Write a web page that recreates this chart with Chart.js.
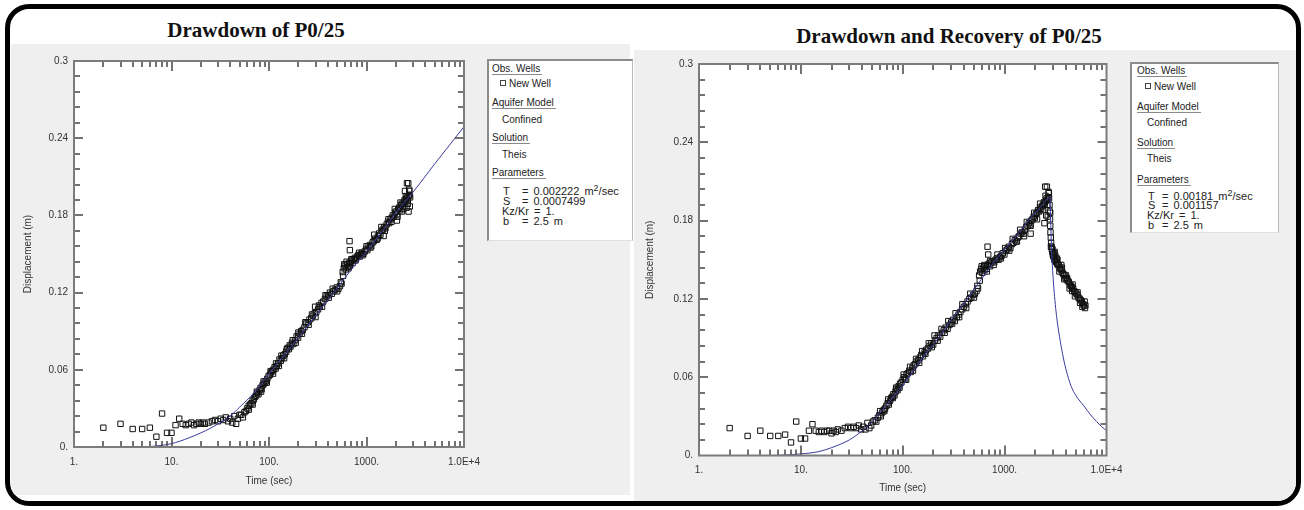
<!DOCTYPE html>
<html>
<head>
<meta charset="utf-8">
<script src="https://cdn.jsdelivr.net/npm/chart.js@4.4.1/dist/chart.umd.min.js"></script>
<style>
  body { margin: 0; width: 1304px; height: 510px; background: #fff; position: relative; overflow: hidden;
         font-family: "Liberation Sans", Arial, sans-serif; }
  #frame { position: absolute; left: 5px; top: 4px; width: 1286px; height: 492px; border: 5px solid #000;
           border-radius: 24px; overflow: hidden; background: #fff; }
  .panel { position: absolute; background: #efefef; }
  .title { position: absolute; width: 400px; text-align: center; font: bold 21px/24px "Liberation Serif", "Times New Roman", serif; color: #111; }
  canvas { position: absolute; }
  .legend { position: absolute; background: #fff; border-top: 2px solid #8c8c8c; border-left: 2px solid #8c8c8c;
            border-right: 1px solid #b8b8b8; border-bottom: 1px solid #e0e0e0; font-size: 10px; color: #222; }
  .legend div { position: absolute; white-space: nowrap; line-height: 12px; }
  .legend .hd { border-bottom: 1px solid #8a8a8a; padding-right: 2px; line-height: 11px; }
  .legend .val { font-size: 11px; word-spacing: 2px; }
  .legend .sq { display: inline-block; width: 4px; height: 4px; border: 1px solid #444; margin-right: 3px; vertical-align: 1px; }
  .legend sup { font-size: 9px; line-height: 0; vertical-align: 4px; }
</style>
</head>
<body>
<div id="frame">
  <div class="panel" style="left:1px;top:35px;width:619px;height:451px"></div>
  <div class="panel" style="left:624px;top:41px;width:662px;height:451px"></div>
</div>

<div class="title" style="left:56px;top:18px">Drawdown of P0/25</div>
<div class="title" style="left:749px;top:24px">Drawdown and Recovery of P0/25</div>

<canvas id="drawChart" width="470" height="451" style="left:12px;top:44px"></canvas>
<canvas id="recoveryChart" width="488" height="450" style="left:634px;top:50px"></canvas>

<div class="legend" style="left:487px;top:59px;width:143px;height:179px">
  <div class="hd" style="top:2px;left:3px">Obs. Wells</div>
  <div style="top:17px;left:11px"><span class="sq"></span>New Well</div>
  <div class="hd" style="top:36px;left:3px">Aquifer Model</div>
  <div style="top:53px;left:13px">Confined</div>
  <div class="hd" style="top:71px;left:3px">Solution</div>
  <div style="top:88px;left:13px">Theis</div>
  <div class="hd" style="top:106px;left:3px">Parameters</div>
  <div class="val" style="top:124px;left:14px">T</div><div class="val" style="top:124px;left:33px">= 0.002222 m<sup>2</sup>/sec</div>
  <div class="val" style="top:134px;left:14px">S</div><div class="val" style="top:134px;left:33px">= 0.0007499</div>
  <div class="val" style="top:144px;left:13px">Kz/Kr = 1.</div>
  <div class="val" style="top:154px;left:14px">b</div><div class="val" style="top:154px;left:33px">= 2.5 m</div>
</div>

<div class="legend" style="left:1130px;top:62px;width:146px;height:168px">
  <div class="hd" style="top:1px;left:5px">Obs. Wells</div>
  <div style="top:17px;left:13px"><span class="sq"></span>New Well</div>
  <div class="hd" style="top:37px;left:5px">Aquifer Model</div>
  <div style="top:53px;left:15px">Confined</div>
  <div class="hd" style="top:73px;left:5px">Solution</div>
  <div style="top:89px;left:15px">Theis</div>
  <div class="hd" style="top:110px;left:5px">Parameters</div>
  <div class="val" style="top:126px;left:16px">T</div><div class="val" style="top:126px;left:30px">= 0.00181 m<sup>2</sup>/sec</div>
  <div class="val" style="top:135px;left:16px">S</div><div class="val" style="top:135px;left:30px">= 0.001157</div>
  <div class="val" style="top:145px;left:15px">Kz/Kr = 1.</div>
  <div class="val" style="top:155px;left:16px">b</div><div class="val" style="top:155px;left:30px">= 2.5 m</div>
</div>

<script>
// axis ticks
const timeTicks = [1, 10, 100, 1000, 10000];
const timeTickLabels = ["1.", "10.", "100.", "1000.", "1.0E+4"];
const dispTicks = [0, 0.06, 0.12, 0.18, 0.24, 0.3];
const dispTickLabels = ["0.", "0.06", "0.12", "0.18", "0.24", "0.3"];

// pumping test, observed drawdown (sec, m)
const drawTime = [
  2, 3, 4, 5, 6, 7, 8, 9, 10, 11, 12, 13, 14, 15, 16, 17, 18, 19, 20, 21, 22, 24, 26, 28, 30,
  32, 34, 36, 38, 40, 42, 44, 46, 48, 50,
  52, 54, 56, 58, 60, 62, 64, 66, 68, 70, 72, 74, 76, 78, 80, 82, 84, 86, 88, 90, 93, 96, 99,
  102, 105, 108, 111, 114, 117, 120, 124, 128, 132, 136, 140, 145, 150, 155, 160, 166, 172, 178,
  185, 192, 199, 206, 214, 222, 231, 240, 250, 260, 271, 282, 294, 306, 319, 332, 346, 360, 375,
  390, 406, 422, 440, 458, 476, 495, 515, 535, 555, 570, 585, 600, 615, 630, 645, 660, 675, 690,
  705, 720, 740, 760, 780, 800, 825, 850, 875, 900, 930, 960, 990, 1020, 1050, 1085, 1120, 1155,
  1190, 1230, 1270, 1310, 1350, 1390, 1430, 1475, 1520, 1565, 1610, 1660, 1710, 1760, 1810, 1860,
  1910, 1960, 2010, 2060, 2110, 2160, 2210, 2260, 2310, 2360, 2410, 2460, 2510, 2560, 2610, 2660,
  2710, 2760, 2800,
  670, 675, 297, 1500, 2050, 2300, 2480, 2580, 2600, 2680, 2700, 2740, 2780,
  62, 68, 75, 83, 88, 95, 104, 110, 118, 126, 134, 143, 152, 163, 175, 188, 200, 218, 236, 255,
  276, 300, 325, 350, 380, 410, 450, 500, 545, 575, 590, 625, 655, 700, 770, 840, 910, 1000, 1100,
  1200, 1300, 1420, 1540, 1680, 1800, 1950, 2080, 2230, 2380, 2530, 2650, 2750
];
const drawDisp = [
  0.015, 0.018, 0.014, 0.014, 0.015, 0.008, 0.026, 0.011, 0.011, 0.017, 0.022, 0.018, 0.017, 0.018,
  0.019, 0.017, 0.018, 0.019, 0.018, 0.019, 0.018, 0.019, 0.020, 0.021, 0.020,
  0.022, 0.021, 0.023, 0.020, 0.022, 0.019, 0.024, 0.018, 0.022, 0.025,
  0.025, 0.023, 0.027, 0.028, 0.030, 0.029, 0.033, 0.034, 0.036, 0.037, 0.039, 0.040, 0.042, 0.041,
  0.044, 0.046, 0.045, 0.048, 0.049, 0.050, 0.051, 0.053, 0.055,
  0.056, 0.058, 0.059, 0.060, 0.062, 0.061, 0.063, 0.065, 0.068, 0.067, 0.069, 0.071, 0.072, 0.074,
  0.077, 0.076, 0.078, 0.081, 0.080,
  0.083, 0.086, 0.085, 0.088, 0.090, 0.091, 0.093, 0.096, 0.097, 0.099, 0.100, 0.102, 0.104, 0.105,
  0.107, 0.109, 0.112, 0.113, 0.115,
  0.117, 0.118, 0.120, 0.119, 0.121, 0.122, 0.124, 0.123, 0.125, 0.127, 0.136, 0.139, 0.141, 0.138,
  0.142, 0.140, 0.143, 0.141, 0.144,
  0.145, 0.143, 0.146, 0.147, 0.146, 0.148, 0.149, 0.148, 0.150, 0.151, 0.150, 0.152, 0.154, 0.153,
  0.156, 0.157, 0.156, 0.159,
  0.160, 0.162, 0.161, 0.164, 0.166, 0.165, 0.168, 0.169, 0.171, 0.170, 0.173, 0.175, 0.174, 0.177,
  0.178, 0.180,
  0.179, 0.182, 0.183, 0.181, 0.185, 0.186, 0.184, 0.188, 0.189, 0.187, 0.190, 0.192, 0.191, 0.193,
  0.194, 0.192,
  0.195, 0.196, 0.194,
  0.160, 0.153, 0.109, 0.164, 0.176, 0.183, 0.199, 0.186, 0.205, 0.205, 0.183, 0.200, 0.187,
  0.032, 0.033, 0.043, 0.043, 0.051, 0.050, 0.059, 0.057, 0.065, 0.063, 0.071, 0.069, 0.076, 0.079,
  0.083, 0.081, 0.089, 0.088, 0.097, 0.095,
  0.103, 0.101, 0.110, 0.109, 0.118, 0.116, 0.123, 0.121, 0.128, 0.133, 0.142, 0.144, 0.139, 0.146,
  0.145, 0.151, 0.149, 0.156, 0.155,
  0.165, 0.162, 0.171, 0.168, 0.177, 0.175, 0.185, 0.179, 0.190, 0.185, 0.195, 0.189, 0.199
];

// fitted Theis curve, pumping only
const drawFitTime = [1, 4, 5.5, 7, 10, 15, 20, 25, 30, 40, 50, 70, 100, 150, 200, 300, 450, 700,
  1000, 1500, 2000, 3000, 5000, 7000, 10000];
const drawFitDisp = [0, 0, 0.0002, 0.0008, 0.0026, 0.007, 0.011, 0.0145, 0.018, 0.024, 0.031, 0.042,
  0.057, 0.073, 0.085, 0.102, 0.119, 0.138, 0.152, 0.169, 0.182, 0.198, 0.220, 0.234, 0.249];

// drawdown and recovery, observed (sec, m)
const recTime = [
  2, 3, 4, 5, 6, 7, 8, 9, 10, 11, 12, 13, 14, 15, 16, 17, 18, 19, 20, 21, 22, 23, 25, 27, 29,
  31, 33, 35, 37, 39, 41, 43, 45, 47, 49, 51,
  53, 55, 57, 59, 61, 63, 65, 67, 69, 71, 73, 75, 77, 79, 81, 83, 85, 87, 89, 91, 94, 97, 100,
  103, 106, 109, 112, 116, 120, 124, 128, 132, 137, 142, 147, 152, 158, 164, 170, 177, 184, 191,
  199, 207, 215, 224, 233, 243, 253, 264, 275, 287, 299, 312, 325, 339, 353, 368, 383, 399, 416,
  433, 451, 470, 490, 510, 530, 548, 562, 576, 590, 605, 620, 635, 650, 665, 680, 700, 720, 740,
  765, 790, 815, 840, 870, 900, 930, 960, 995, 1030, 1065, 1100, 1140, 1180, 1220, 1260, 1300,
  1345, 1390, 1435, 1480, 1530, 1580, 1630, 1680, 1730, 1780, 1830, 1880, 1930, 1980, 2030, 2080,
  2130, 2180, 2230, 2280, 2330, 2380, 2430, 2480, 2530, 2580, 2630, 2680, 2730,
  680, 690, 1800, 2460, 2500, 2560, 2600, 2650, 2700,
  60, 66, 72, 80, 86, 93, 102, 108, 118, 126, 135, 145, 155, 167, 180, 193, 205, 220, 240, 258,
  280, 305, 330, 358, 385, 420, 460, 500, 540, 570, 595, 630, 670, 720, 780, 850, 920, 1010, 1110,
  1200, 1320, 1420, 1550, 1650, 1800, 1950, 2080, 2230, 2380, 2520, 2620, 2720,
  2760, 2775, 2790, 2805, 2820, 2840, 2860, 2885, 2910, 2940, 2970, 3000, 3040, 3080, 3120, 3170,
  3220, 3280, 3340, 3400, 3470, 3540, 3620, 3700, 3780, 3870, 3960, 4060, 4160, 4260, 4360, 4470,
  4580, 4700, 4820, 4940, 5060, 5190, 5320, 5450, 5590, 5730, 5870, 6010, 6150, 6200,
  3100, 3250, 3600, 4000, 4600, 5500,
  2800, 2850, 2950, 3050, 3150, 3300, 3450, 3650, 3850, 4100, 4350, 4650, 4900, 5200, 5800, 6100
];
const recDisp = [
  0.021, 0.015, 0.019, 0.015, 0.015, 0.016, 0.010, 0.026, 0.013, 0.013, 0.019, 0.024, 0.019, 0.018,
  0.019, 0.018, 0.019, 0.019, 0.017, 0.019, 0.018, 0.020, 0.019, 0.021, 0.022,
  0.021, 0.022, 0.021, 0.023, 0.020, 0.022, 0.020, 0.025, 0.021, 0.023, 0.026,
  0.027, 0.026, 0.029, 0.031, 0.030, 0.033, 0.035, 0.036, 0.038, 0.040, 0.039, 0.042, 0.044, 0.045,
  0.047, 0.046, 0.049, 0.051, 0.050, 0.053, 0.055, 0.056, 0.058,
  0.060, 0.059, 0.062, 0.063, 0.065, 0.064, 0.067, 0.069, 0.070, 0.072, 0.073, 0.075, 0.077, 0.076,
  0.079, 0.081, 0.082, 0.084, 0.086,
  0.085, 0.088, 0.090, 0.092, 0.091, 0.094, 0.096, 0.098, 0.097, 0.100, 0.102, 0.104, 0.103, 0.106,
  0.108, 0.110, 0.112, 0.114, 0.116,
  0.118, 0.120, 0.121, 0.123, 0.124, 0.126, 0.128, 0.138, 0.141, 0.143, 0.140, 0.144, 0.142, 0.145,
  0.143, 0.146, 0.147, 0.145, 0.148,
  0.149, 0.148, 0.150, 0.151, 0.150, 0.152, 0.153, 0.155, 0.154, 0.157, 0.158, 0.160, 0.159, 0.162,
  0.163, 0.165, 0.164,
  0.167, 0.168, 0.170, 0.171, 0.170, 0.173, 0.175, 0.176, 0.178, 0.177, 0.180, 0.181, 0.183, 0.182,
  0.185, 0.186,
  0.188, 0.187, 0.190, 0.189, 0.191, 0.192, 0.194, 0.193, 0.195, 0.197, 0.196, 0.198, 0.197,
  0.160, 0.154, 0.170, 0.178, 0.206, 0.184, 0.206, 0.183, 0.202,
  0.034, 0.034, 0.043, 0.044, 0.052, 0.052, 0.062, 0.058, 0.068, 0.065, 0.074, 0.071, 0.080, 0.078,
  0.086, 0.083, 0.092, 0.088, 0.097, 0.094,
  0.103, 0.101, 0.109, 0.106, 0.116, 0.113, 0.124, 0.121, 0.130, 0.134, 0.145, 0.146, 0.141, 0.149,
  0.146, 0.154, 0.151, 0.159, 0.157,
  0.166, 0.164, 0.173, 0.168, 0.179, 0.176, 0.186, 0.181, 0.193, 0.188, 0.199, 0.192, 0.201,
  0.192, 0.187, 0.181, 0.176, 0.171, 0.167, 0.163, 0.160, 0.158, 0.156, 0.154, 0.153, 0.152, 0.150,
  0.151, 0.149,
  0.148, 0.147, 0.146, 0.146, 0.144, 0.143, 0.142, 0.140, 0.139, 0.138, 0.136, 0.135, 0.134, 0.133,
  0.131, 0.130,
  0.129, 0.128, 0.126, 0.125, 0.124, 0.123, 0.121, 0.120, 0.119, 0.118, 0.116, 0.115, 0.113, 0.115,
  0.156, 0.151, 0.146, 0.138, 0.126, 0.117,
  0.186, 0.160, 0.158, 0.155, 0.153, 0.150, 0.141, 0.144, 0.135, 0.136, 0.128, 0.131, 0.122, 0.125,
  0.114, 0.118
];

// fitted Theis curve with recovery after pump stop
const recFitTime = [1, 5, 7, 10, 15, 20, 30, 40, 50, 60, 70, 85, 100, 125, 160, 200, 300, 430,
  500, 700, 1000, 1300, 1633, 2000, 2400, 2750, 2790, 2820, 2860, 2920, 3000, 3090, 3200, 3320,
  3460, 3700, 4000, 4500, 5000, 6000, 7000, 8000, 9000, 10000];
const recFitDisp = [0, 0, 0.0004, 0.0012, 0.003, 0.006, 0.012, 0.019, 0.026, 0.033, 0.039, 0.047,
  0.054, 0.064, 0.076, 0.085, 0.104, 0.120, 0.127, 0.143, 0.158, 0.168, 0.178, 0.186, 0.193,
  0.198, 0.197, 0.185, 0.168, 0.150, 0.135, 0.122, 0.110, 0.100, 0.091, 0.078, 0.066, 0.053, 0.046,
  0.038, 0.031, 0.026, 0.022, 0.019];

function pairs(xs, ys) {
  return xs.map((x, i) => ({ x: x, y: ys[i] }));
}

const axisFont = { family: "'Liberation Sans', Arial, sans-serif", size: 10 };

// white plot area, grey frame and inward tick marks
const plotFrame = {
  id: 'plotFrame',
  beforeDraw(chart) {
    const { ctx, chartArea: a } = chart;
    ctx.save();
    ctx.fillStyle = '#fff';
    ctx.fillRect(a.left, a.top, a.width, a.height);
    ctx.restore();
  },
  afterDraw(chart) {
    const { ctx, chartArea: a, scales: { x, y } } = chart;
    ctx.save();
    ctx.strokeStyle = '#444';
    ctx.lineWidth = 1.5;
    for (let d = 1; d < 10000; d *= 10) {
      for (let k = 1; k <= 9; k++) {
        if (d * k === 1) continue;
        const px = Math.round(x.getPixelForValue(d * k));
        const len = k === 1 ? 10 : 6;
        ctx.beginPath();
        ctx.moveTo(px, a.bottom); ctx.lineTo(px, a.bottom - len);
        ctx.moveTo(px, a.top); ctx.lineTo(px, a.top + len);
        ctx.stroke();
      }
    }
    for (let i = 1; i < 25; i++) {
      const py = Math.round(y.getPixelForValue(i * 0.012));
      const len = i % 5 === 0 ? 9 : 6;
      ctx.beginPath();
      ctx.moveTo(a.left, py); ctx.lineTo(a.left + len, py);
      ctx.moveTo(a.right, py); ctx.lineTo(a.right - len, py);
      ctx.stroke();
    }
    ctx.lineWidth = 2;
    ctx.strokeStyle = '#7c7c7c';
    ctx.strokeRect(a.left, a.top, a.width, a.height);
    ctx.restore();
  }
};

function makeChart(id, fitT, fitS, obsT, obsS, box) {
  return new Chart(document.getElementById(id), {
    type: 'scatter',
    data: {
      datasets: [
        {
          label: 'Theis',
          data: pairs(fitT, fitS),
          showLine: true,
          borderColor: '#3b3b9e',
          borderWidth: 1,
          pointRadius: 0,
          cubicInterpolationMode: 'monotone',
          order: 0
        },
        {
          label: 'New Well',
          data: pairs(obsT, obsS),
          pointStyle: 'rect',
          pointRadius: 3.8,
          borderColor: '#111',
          borderWidth: 1,
          backgroundColor: 'rgba(0,0,0,0)',
          order: 1
        }
      ]
    },
    options: {
      responsive: false,
      animation: false,
      events: [],
      layout: { padding: { left: 0, top: box.top, right: box.right, bottom: 0 } },
      plugins: { legend: { display: false }, tooltip: { enabled: false } },
      scales: {
        x: {
          type: 'logarithmic',
          min: 1,
          max: 10000,
          afterBuildTicks: (s) => { s.ticks = timeTicks.map((v) => ({ value: v })); },
          afterFit: (s) => { s.height = box.xh; s.paddingLeft = 0; s.paddingRight = 0; },
          grid: { display: false, drawTicks: false },
          border: { display: false },
          ticks: {
            padding: box.xlp,
            color: '#333',
            font: axisFont,
            autoSkip: false,
            maxRotation: 0,
            callback: (v, i) => timeTickLabels[i]
          },
          title: { display: true, text: 'Time (sec)', color: '#333', font: axisFont,
                   padding: { top: 0, bottom: box.xtp } }
        },
        y: {
          min: 0,
          max: 0.3,
          afterBuildTicks: (s) => { s.ticks = dispTicks.map((v) => ({ value: v })); },
          afterFit: (s) => { s.width = box.yw; s.paddingTop = 0; s.paddingBottom = 0; },
          grid: { display: false, drawTicks: false },
          border: { display: false },
          ticks: {
            padding: 6,
            color: '#333',
            font: axisFont,
            autoSkip: false,
            callback: (v, i) => dispTickLabels[i]
          },
          title: { display: true, text: 'Displacement (m)', color: '#333', font: axisFont,
                   padding: { top: 10, bottom: 0 } }
        }
      }
    },
    plugins: [plotFrame]
  });
}

makeChart('drawChart', drawFitTime, drawFitDisp, drawTime, drawDisp,
  { top: 17, right: 18, yw: 62, xh: 48, xlp: 9, xtp: 8 });
makeChart('recoveryChart', recFitTime, recFitDisp, recTime, recDisp,
  { top: 14, right: 15.5, yw: 65, xh: 44.5, xlp: 9, xtp: 6 });
</script>
</body>
</html>
